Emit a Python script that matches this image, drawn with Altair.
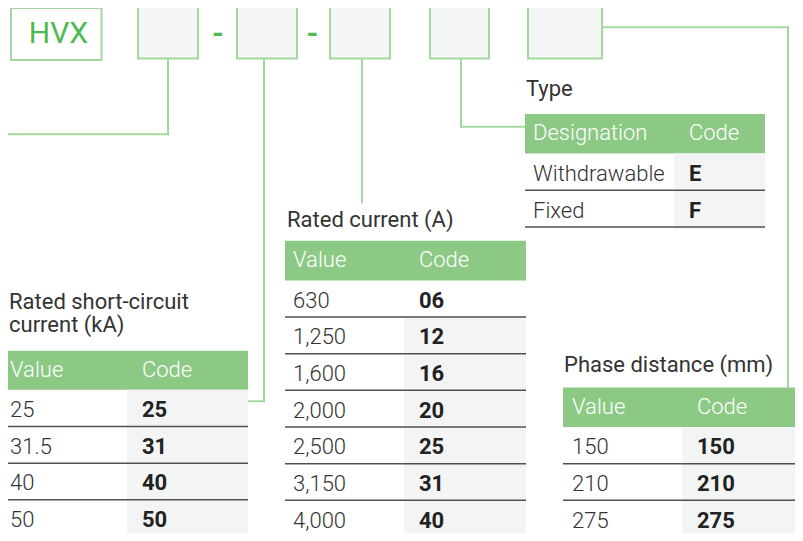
import altair as alt
import pandas as pd

# ------------------------------------------------------------------ data
brand = "HVX"
value_headers = ["Value", "Code"]

sc_title = ["Rated short-circuit", "current (kA)"]
sc_values = ["25", "31.5", "40", "50"]
sc_codes = ["25", "31", "40", "50"]

rc_title = ["Rated current (A)"]
rc_values = ["630", "1,250", "1,600", "2,000", "2,500", "3,150", "4,000"]
rc_codes = ["06", "12", "16", "20", "25", "31", "40"]

type_title = ["Type"]
type_headers = ["Designation", "Code"]
type_values = ["Withdrawable", "Fixed"]
type_codes = ["E", "F"]

pd_title = ["Phase distance (mm)"]
pd_values = ["150", "210", "275"]
pd_codes = ["150", "210", "275"]

# ------------------------------------------------------------------ layout (reference pixel frame)
W, H = 787, 525
X0, Y0 = 8, 8
Y_END = 538          # reference y shown at the bottom edge of the plot
ROW_H = 37

GREEN_HEAD = "#8cc985"
GREEN_LINE = "#a3d99e"
GREEN_TEXT = "#4cbb4f"
GRAY_CELL = "#f3f5f4"
BOX_FILL = "#f4f6f5"
SEP = "#505050"
TXT = "#333333"

tables = [
    dict(title=sc_title, head=value_headers, values=sc_values, codes=sc_codes,
         left=7.5, right=248, code_x=127, head_top=354, rows_top=393.5,
         text_x=10, title_x=9, title_base=[312, 335], gray_from=0),
    dict(title=rc_title, head=value_headers, values=rc_values, codes=rc_codes,
         left=285, right=526, code_x=404, head_top=243, rows_top=283,
         text_x=293, title_x=287, title_base=[229], gray_from=1),
    dict(title=type_title, head=type_headers, values=type_values, codes=type_codes,
         left=525, right=765, code_x=674, head_top=115, rows_top=155,
         text_x=533, title_x=526, title_base=[97], gray_from=0),
    dict(title=pd_title, head=value_headers, values=pd_values, codes=pd_codes,
         left=563, right=803, code_x=682, head_top=391, rows_top=431,
         text_x=572, title_x=564, title_base=[375], gray_from=0),
]

# top code boxes: (left, right, top, bottom, fill)
boxes = [
    (11, 101.5, 8, 60.5, "white"),
    (138, 198, 6, 59, BOX_FILL),
    (237, 297, 6, 59, BOX_FILL),
    (330, 390, 6, 59, BOX_FILL),
    (430, 489, 6, 59, BOX_FILL),
    (528, 602, 6, 59, BOX_FILL),
]

# connector polylines
connectors = [
    [(0, 135.5), (168, 135.5), (168, 59)],
    [(264, 59), (264, 405), (248, 405)],
    [(362, 59), (362, 204)],
    [(461, 59), (461, 128), (525, 128)],
    [(602, 27.5), (788, 27.5), (788, 391)],
]

# ------------------------------------------------------------------ build frames
box_rows = [dict(x=l, x2=r, y=t, y2=b, fill=f) for (l, r, t, b, f) in boxes]

head_rows, gray_rows, sep_rows = [], [], []
title_rows, headtxt_rows, val_rows, code_rows = [], [], [], []
for t in tables:
    n = len(t["values"])
    head_rows.append(dict(x=t["left"], x2=t["right"], y=t["head_top"], y2=t["rows_top"]))
    gray_rows.append(dict(x=t["code_x"], x2=t["right"],
                          y=t["rows_top"] + t["gray_from"] * ROW_H,
                          y2=t["rows_top"] + n * ROW_H + 2))
    for i in range(n):
        sep_rows.append(dict(x=t["left"], x2=t["right"], y=t["rows_top"] + (i + 1) * ROW_H))
        base = t["rows_top"] + i * ROW_H + 27.5
        val_rows.append(dict(x=t["text_x"], y=base, text=t["values"][i]))
        code_rows.append(dict(x=t["code_x"] + 15, y=base, text=t["codes"][i]))
    for line, b in zip(t["title"], t["title_base"]):
        title_rows.append(dict(x=t["title_x"], y=b, text=line))
    headtxt_rows.append(dict(x=t["text_x"], y=t["head_top"] + 26.5, text=t["head"][0]))
    headtxt_rows.append(dict(x=t["code_x"] + 15, y=t["head_top"] + 26.5, text=t["head"][1]))

conn_rows = []
for pts in connectors:
    for (a, b) in zip(pts[:-1], pts[1:]):
        conn_rows.append(dict(x=a[0], y=a[1], x2=b[0], y2=b[1]))

brand_rows = [dict(x=58.5, y=43, text=brand)]
dash_rows = [dict(x=218, y=43, text="-"), dict(x=312.5, y=43, text="-")]

# ------------------------------------------------------------------ encodings
xs = alt.Scale(domain=[X0, X0 + W], nice=False, zero=False)
ys = alt.Scale(domain=[Y0, Y_END], nice=False, zero=False, reverse=True)


def ex(f="x"):
    return alt.X(f"{f}:Q", scale=xs, axis=None)


def ey(f="y"):
    return alt.Y(f"{f}:Q", scale=ys, axis=None)


def rect_layer(rows, **mk):
    return alt.Chart(pd.DataFrame(rows)).mark_rect(**mk).encode(
        x=ex(), x2=alt.X2("x2:Q"), y=ey(), y2=alt.Y2("y2:Q"))


boxes_layer = alt.Chart(pd.DataFrame(box_rows)).mark_rect(
    stroke=GREEN_LINE, strokeWidth=2).encode(
    x=ex(), x2=alt.X2("x2:Q"), y=ey(), y2=alt.Y2("y2:Q"),
    fill=alt.Fill("fill:N", scale=None))

head_layer = rect_layer(head_rows, color=GREEN_HEAD)
gray_layer = rect_layer(gray_rows, color=GRAY_CELL)

sep_layer = alt.Chart(pd.DataFrame(sep_rows)).mark_rule(
    color=SEP, strokeWidth=1.5).encode(x=ex(), x2=alt.X2("x2:Q"), y=ey())

conn_layer = alt.Chart(pd.DataFrame(conn_rows)).mark_rule(
    color=GREEN_LINE, strokeWidth=2, strokeCap="square").encode(
    x=ex(), x2=alt.X2("x2:Q"), y=ey(), y2=alt.Y2("y2:Q"))


def text_layer(rows, **mk):
    return alt.Chart(pd.DataFrame(rows)).mark_text(
        baseline="alphabetic", font="Roboto", **mk).encode(
        x=ex(), y=ey(), text="text:N")


title_layer = text_layer(title_rows, align="left", fontSize=22, color=TXT)
headtxt_layer = text_layer(headtxt_rows, align="left", fontSize=22, color="white", fontWeight=300)
val_layer = text_layer(val_rows, align="left", fontSize=22, color=TXT, fontWeight=300)
code_layer = text_layer(code_rows, align="left", fontSize=22, color="#222222", fontWeight="bold")
brand_layer = text_layer(brand_rows, align="center", fontSize=30, color=GREEN_TEXT)
dash_layer = text_layer(dash_rows, align="center", fontSize=30, color=GREEN_TEXT, fontWeight="bold")

chart = alt.layer(
    conn_layer, boxes_layer, head_layer, gray_layer, sep_layer,
    title_layer, headtxt_layer, val_layer, code_layer, brand_layer, dash_layer,
).properties(
    width=W, height=H, padding=0, autosize=alt.AutoSizeParams(type="none"),
).configure_view(stroke=None)

chart.save("out.html", embed_options={"renderer": "svg", "actions": False})
